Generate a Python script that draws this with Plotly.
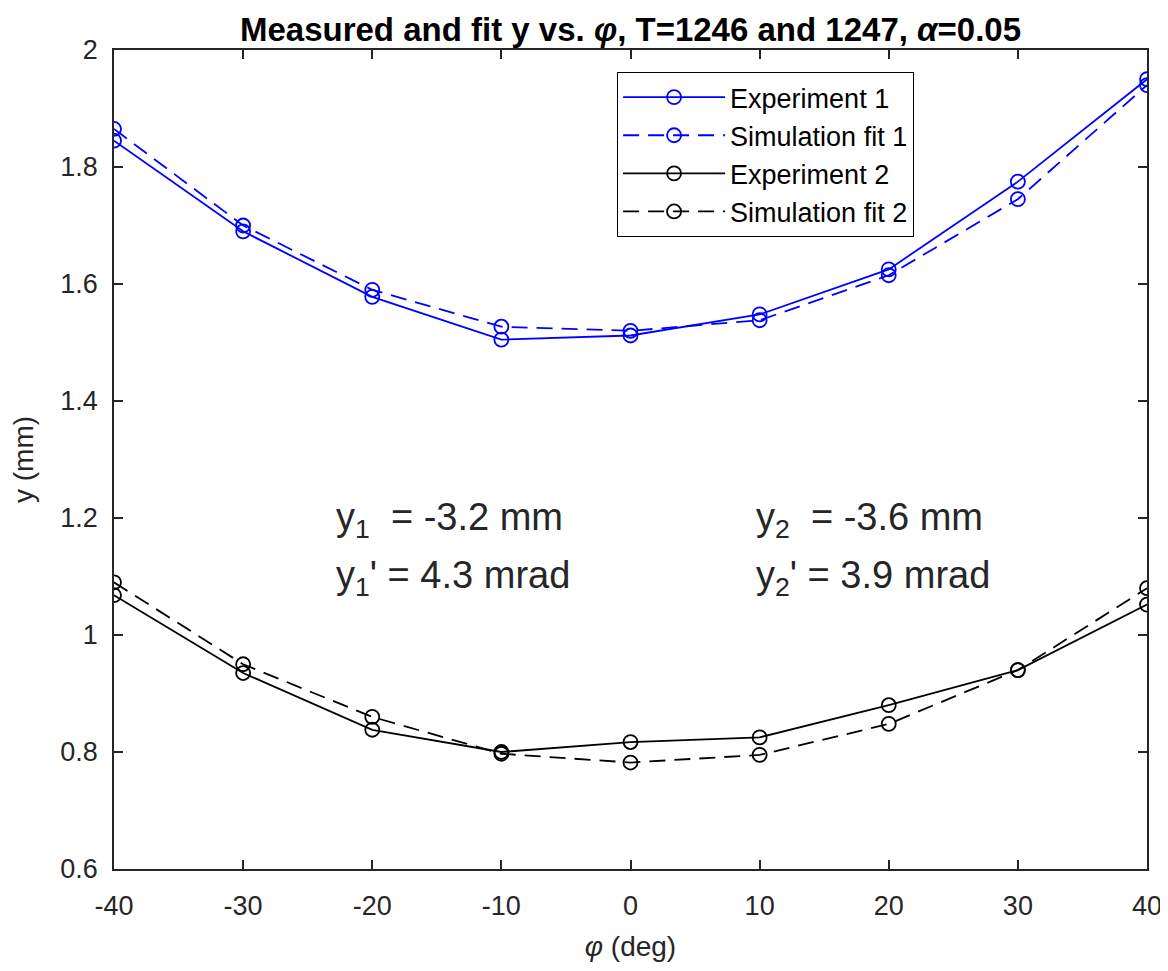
import plotly.graph_objects as go

phi = [-40, -30, -20, -10, 0, 10, 20, 30, 40]
exp1 = [1.845, 1.690, 1.578, 1.505, 1.512, 1.548, 1.625, 1.775, 1.950]
sim1 = [1.865, 1.700, 1.590, 1.527, 1.520, 1.538, 1.615, 1.745, 1.940]
exp2 = [1.068, 0.935, 0.838, 0.800, 0.817, 0.825, 0.880, 0.940, 1.052]
sim2 = [1.090, 0.950, 0.860, 0.797, 0.782, 0.795, 0.848, 0.940, 1.080]

names = ["Experiment 1", "Simulation fit 1", "Experiment 2", "Simulation fit 2"]
colors = ["#0000FF", "#0000FF", "#000000", "#000000"]
dashes = ["solid", "16px,9px", "solid", "16px,9px"]
series = [exp1, sim1, exp2, sim2]

axis_color = "#262626"
font_family = "Liberation Sans, Arial, Helvetica, sans-serif"

fig = go.Figure()
for i, (nm, col, dsh, ys) in enumerate(zip(names, colors, dashes, series)):
    fig.add_trace(go.Scatter(
        x=phi, y=ys, name=nm, mode="lines+markers",
        line=dict(color=col, width=1.8, dash=dsh),
        marker=dict(symbol="circle-open", size=14, color=col, line=dict(width=1.8, color=col)),
        legendgroup=str(i),
    ))

ann_text = [
    ("y<sub>1</sub>&nbsp; = -3.2 mm", -23.0, 1.197),
    ("y<sub>1</sub>' = 4.3 mrad", -23.0, 1.097),
    ("y<sub>2</sub>&nbsp; = -3.6 mm", 9.6, 1.197),
    ("y<sub>2</sub>' = 3.9 mrad", 9.6, 1.097),
]
for txt, ax_, ay_ in ann_text:
    fig.add_annotation(x=ax_, y=ay_, text=txt, showarrow=False, xanchor="left", yanchor="middle",
                       font=dict(family=font_family, size=38, color=axis_color))

W, H = 1160, 955
L, R, T, B = 106, 21, 42, 94
fig.update_layout(
    width=W, height=H,
    paper_bgcolor="white", plot_bgcolor="white",
    margin=dict(l=L, r=R, t=T, b=B, autoexpand=False),
    font=dict(family=font_family, color=axis_color),
    title=dict(text="<b>Measured and fit y vs. <i>φ</i>, T=1246 and 1247, <i>α</i>=0.05</b>",
               x=(L + (W - R - L) / 2) / W, xanchor="center", y=1 - 21 / H, yanchor="middle",
               font=dict(family=font_family, size=33, color="#000000")),
    legend=dict(x=0.487, y=0.973, xanchor="left", yanchor="top",
                bgcolor="white", bordercolor="#000000", borderwidth=1,
                font=dict(family=font_family, size=27, color="#000000"),
                itemwidth=102, tracegroupgap=25, traceorder="normal"),
    showlegend=True,
)
fig.update_xaxes(range=[-40, 40], tickvals=phi, ticktext=[str(v) for v in phi], automargin=False,
                 showgrid=False, zeroline=False, showline=True, linecolor=axis_color, linewidth=1.5,
                 mirror="ticks", ticks="inside", ticklen=9, tickcolor=axis_color, tickwidth=1.5,
                 tickfont=dict(size=27, color=axis_color), ticklabelstandoff=12,
                 title=dict(text="<i>φ</i> (deg)", font=dict(size=28, color=axis_color), standoff=16))
fig.update_yaxes(range=[0.6, 2.0], tickvals=[0.6, 0.8, 1.0, 1.2, 1.4, 1.6, 1.8, 2.0], automargin=False,
                 ticktext=["0.6", "0.8", "1", "1.2", "1.4", "1.6", "1.8", "2"],
                 showgrid=False, zeroline=False, showline=True, linecolor=axis_color, linewidth=1.5,
                 mirror="ticks", ticks="inside", ticklen=9, tickcolor=axis_color, tickwidth=1.5,
                 tickfont=dict(size=27, color=axis_color), ticklabelstandoff=9,
                 title=dict(text="y (mm)", font=dict(size=28, color=axis_color), standoff=42))

fig.write_html("out.html")
